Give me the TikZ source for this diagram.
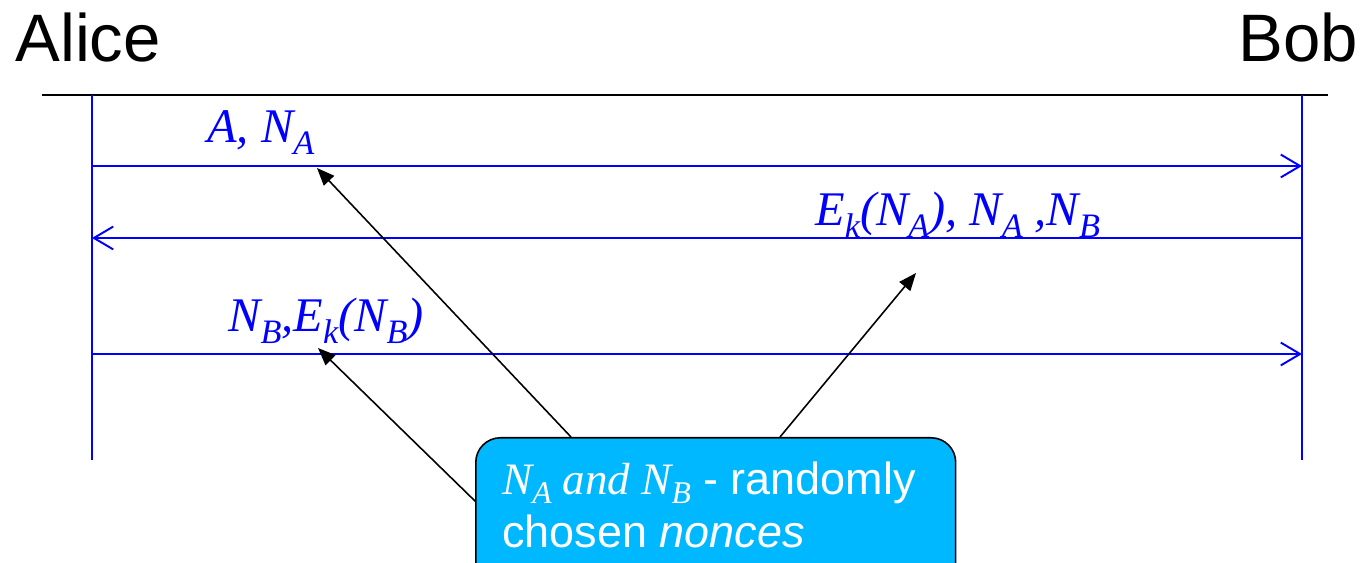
\documentclass[tikz,border=0pt]{standalone}
\usepackage{fontspec}
\setmainfont{Liberation Serif}
\setsansfont{Liberation Sans}
\usetikzlibrary{arrows.meta}
\definecolor{calloutblue}{RGB}{0,184,255}
\newcommand{\sbx}[1]{\raisebox{-0.24em}{\fontsize{19.5}{20}\selectfont #1}}
\begin{document}
\begin{tikzpicture}[x=0.02cm,y=-0.02cm,
  party/.style={font=\sffamily\fontsize{38.2}{40}\selectfont, inner sep=0pt},
  lifeline/.style={blue, line width=1.1pt},
  msg/.style={blue, line width=1.1pt, -{Straight Barb[length=11pt,width=13pt,line width=1.1pt]}},
  msglabel/.style={blue, font=\rmfamily\itshape\fontsize{27.5}{30}\selectfont, inner sep=0pt, anchor=base west},
  pointer/.style={black, line width=0.9pt, -{Triangle[length=10pt,width=8pt]}},
  notebox/.style={draw=black, line width=0.9pt, fill=calloutblue, rounded corners=14pt, minimum width=9.6cm, minimum height=3cm, anchor=north west, inner sep=0pt},
  notetext/.style={white, font=\sffamily\fontsize{25.6}{30}\selectfont, inner sep=0pt, anchor=base west, align=left}
]
\useasboundingbox (0,0) rectangle (1363,563);
\clip (0,0) rectangle (1363,563);

% parties
\node[party, anchor=base west] (alice) at (15,62) {Alice};
\node[party, anchor=base east] (bob) at (1358,62) {Bob};

% header line
\coordinate (hl) at (42,95);
\coordinate (hr) at (1328,95);
\draw[black, line width=0.9pt] (hl) -- (hr);

% lifelines
\coordinate (a0) at (92,95);
\coordinate (a1) at (92,460);
\coordinate (b0) at (1302,95);
\coordinate (b1) at (1302,460);
\draw[lifeline] (a0) -- (a1);
\draw[lifeline] (b0) -- (b1);

% message points
\coordinate (m1a) at (92,166);
\coordinate (m1b) at (1302,166);
\coordinate (m2a) at (92,238);
\coordinate (m2b) at (1302,238);
\coordinate (m3a) at (92,354);
\coordinate (m3b) at (1302,354);
\draw[msg] (m1a) -- (m1b);
\draw[msg] (m2b) -- (m2a);
\draw[msg] (m3a) -- (m3b);

% labels
\node[msglabel] (l1) at (207,143) {A, N\sbx{A}};
\node[msglabel] (l2) at (815,226) {E\sbx{k}(N\sbx{A}), N\sbx{A} ,N\sbx{B}};
\node[msglabel] (l3) at (228,332) {N\sbx{B},E\sbx{k}(N\sbx{B})};

% pointer arrows
\coordinate (p1s) at (571,437);
\coordinate (p1e) at (317,168);
\coordinate (p2s) at (780,437);
\coordinate (p2e) at (916,273);
\coordinate (p3s) at (476,502);
\coordinate (p3e) at (318,348);
\draw[pointer] (p1s) -- (p1e);
\draw[pointer] (p2s) -- (p2e);
\draw[pointer] (p3s) -- (p3e);

% callout
\node[notebox] (note) at (475,437) {};
\node[notetext] (nt1) at (502,495) {{\rmfamily\itshape N\raisebox{-0.2em}{\fontsize{18}{20}\selectfont A} and N\raisebox{-0.2em}{\fontsize{18}{20}\selectfont B}} - randomly};
\node[notetext] (nt2) at (502,548) {chosen \textit{nonces}};
\end{tikzpicture}
\end{document}
